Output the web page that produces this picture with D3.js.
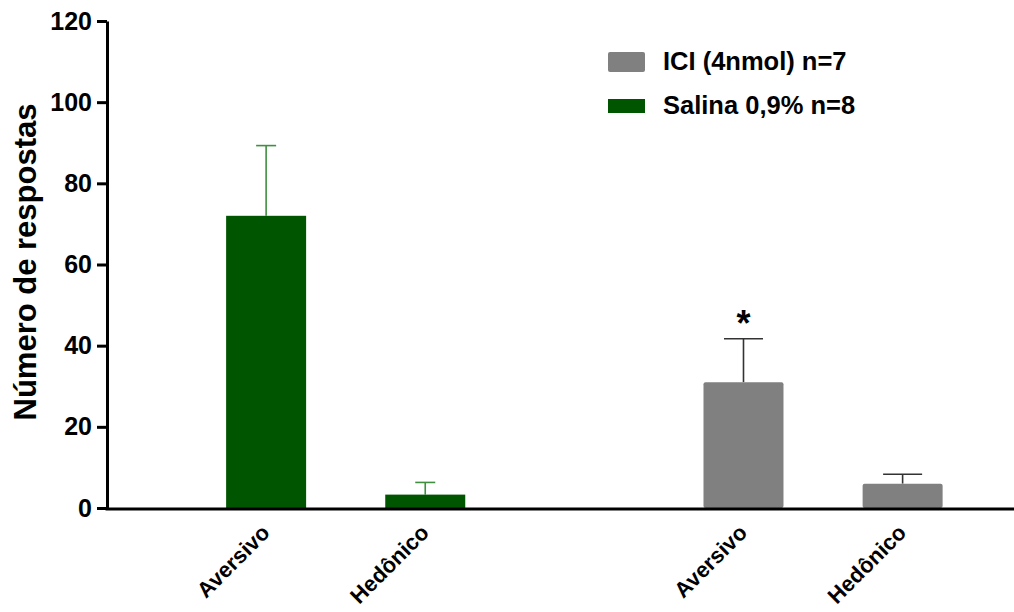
<!DOCTYPE html>
<html><head><meta charset="utf-8">
<script src="https://cdn.jsdelivr.net/npm/d3@7"></script>
<style>body{margin:0;background:#fff}svg{display:block}text{font-family:Arial,"Liberation Sans",sans-serif;font-weight:bold}</style>
</head><body>
<svg id="c" width="1014" height="612"></svg>
<script>
const categories = ["Aversivo", "Hedônico", "Aversivo", "Hedônico"];
const groups = ["Salina 0,9% n=8", "Salina 0,9% n=8", "ICI (4nmol) n=7", "ICI (4nmol) n=7"];
const slots = [1, 2, 4, 5];
const means = [72, 3.3, 31, 6];
const errors = [17.3, 3.0, 10.7, 2.3];
const significance = ["", "", "*", ""];
const yTicks = [0, 20, 40, 60, 80, 100, 120];
const legendLabels = ["ICI (4nmol) n=7", "Salina 0,9% n=8"];
const colors = {"Salina 0,9% n=8": "#005500", "ICI (4nmol) n=7": "#808080"};
const errColors = {"Salina 0,9% n=8": "#3f8f3f", "ICI (4nmol) n=7": "#333333"};

const svg = d3.select("#c");
const x0 = 107, yBase = 508;
const y = d3.scaleLinear().domain([0, 120]).range([yBase, 21]);
const x = d3.scaleLinear().domain([0, 5.7]).range([x0, 1014]);
const barW = 80;

const data = means.map((m, i) => ({m, e: errors[i], s: slots[i], g: groups[i], c: categories[i], sig: significance[i]}));
const eb = svg.append("g");
data.forEach(d => {
  const cx = x(d.s);
  const col = errColors[d.g];
  const capW = d.g.startsWith("ICI") ? 39 : 20;
  eb.append("line").attr("x1", cx).attr("x2", cx).attr("y1", y(d.m)).attr("y2", y(d.m + d.e)).attr("stroke", col).attr("stroke-width", 1.6);
  eb.append("line").attr("x1", cx - capW/2).attr("x2", cx + capW/2).attr("y1", y(d.m + d.e)).attr("y2", y(d.m + d.e)).attr("stroke", col).attr("stroke-width", 1.6);
});
svg.append("g").selectAll("rect").data(data).join("rect")
  .attr("x", d => x(d.s) - barW/2).attr("width", barW)
  .attr("y", d => y(d.m)).attr("height", d => yBase - y(d.m))
  .attr("rx", d => d.g.startsWith("ICI") ? 2 : 0)
  .attr("fill", d => colors[d.g]);

svg.append("g").selectAll("text").data(data.filter(d => d.sig)).join("text")
  .attr("x", d => x(d.s)).attr("y", d => y(d.m + d.e) - 3)
  .attr("text-anchor", "middle").attr("font-size", 36).text(d => d.sig);

const yAxis = d3.axisLeft(y).tickValues(yTicks).tickSize(10).tickPadding(5).tickSizeOuter(0);
const ga = svg.append("g").attr("transform", `translate(${x0},0)`).call(yAxis);
ga.select(".domain").attr("stroke", "#000").attr("stroke-width", 3);
ga.selectAll(".tick line").attr("stroke", "#000").attr("stroke-width", 3);
ga.selectAll(".tick text").attr("font-size", 25).attr("font-family", "Arial, 'Liberation Sans', sans-serif").attr("font-weight", "bold").attr("fill", "#000");

svg.append("line").attr("x1", x0 - 1.5).attr("x2", 1014).attr("y1", yBase + 1).attr("y2", yBase + 1).attr("stroke", "#000").attr("stroke-width", 3);

svg.append("g").selectAll("text").data(data).join("text")
  .attr("transform", d => `translate(${x(d.s) + 5},${yBase + 26}) rotate(-45)`)
  .attr("text-anchor", "end").attr("font-size", 22).text(d => d.c);

svg.append("text").attr("transform", "translate(36,262) rotate(-90)").attr("text-anchor", "middle")
  .attr("font-size", 31).text("Número de respostas");

const lg = svg.append("g");
legendLabels.forEach((l, i) => {
  const isICI = l.startsWith("ICI");
  lg.append("rect").attr("x", 608).attr("y", isICI ? 52 : 99).attr("width", 37).attr("height", isICI ? 20 : 14)
    .attr("rx", isICI ? 2 : 0).attr("fill", colors[l]);
  lg.append("text").attr("x", 663).attr("y", isICI ? 70 : 114).attr("font-size", 25.5).text(l);
});
</script>
</body></html>
